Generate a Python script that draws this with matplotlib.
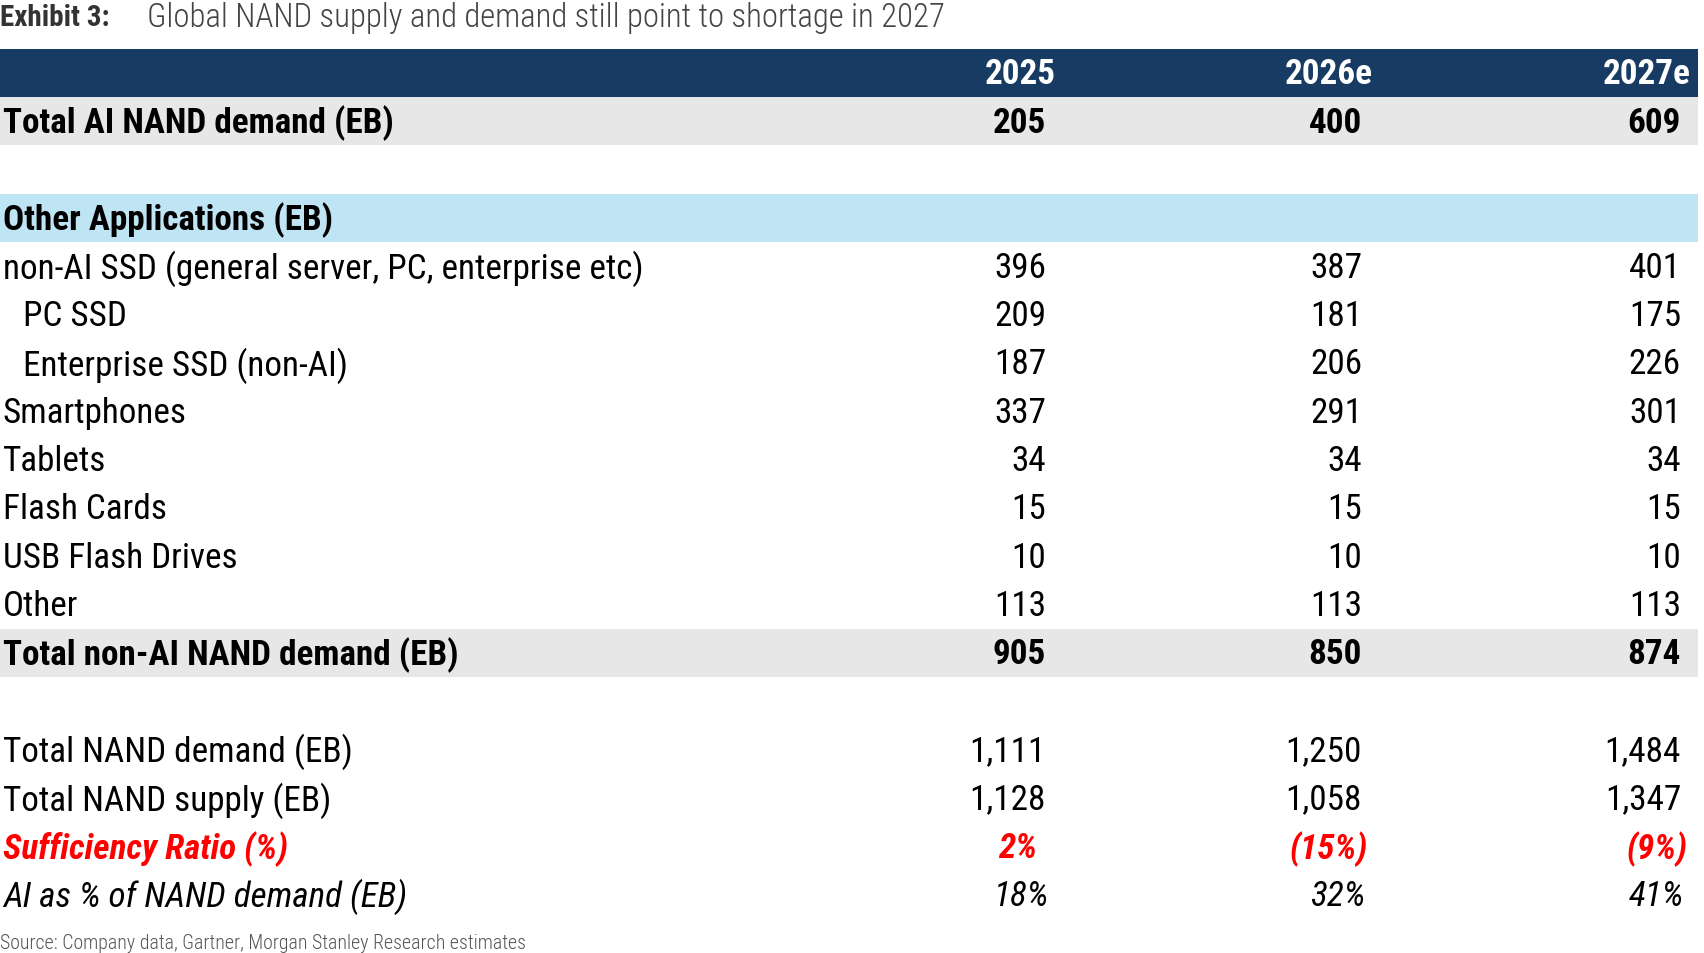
import matplotlib
matplotlib.use("Agg")
import matplotlib.pyplot as plt
from matplotlib.patches import Rectangle
from matplotlib import font_manager as fm

# ---------------- data ----------------
title_label = "Exhibit 3:"
title_text = "Global NAND supply and demand still point to shortage in 2027"
source_text = "Source: Company data, Gartner, Morgan Stanley Research estimates"
years = ["2025", "2026e", "2027e"]

ai_label = "Total AI NAND demand (EB)"
ai_values = ["205", "400", "609"]

section_label = "Other Applications (EB)"
app_labels = ["non-AI SSD (general server, PC, enterprise etc)", "  PC SSD",
              "  Enterprise SSD (non-AI)", "Smartphones", "Tablets",
              "Flash Cards", "USB Flash Drives", "Other"]
app_values = [["396", "387", "401"],
              ["209", "181", "175"],
              ["187", "206", "226"],
              ["337", "291", "301"],
              ["34", "34", "34"],
              ["15", "15", "15"],
              ["10", "10", "10"],
              ["113", "113", "113"]]

nonai_label = "Total non-AI NAND demand (EB)"
nonai_values = ["905", "850", "874"]

demand_label = "Total NAND demand (EB)"
demand_values = ["1,111", "1,250", "1,484"]
supply_label = "Total NAND supply (EB)"
supply_values = ["1,128", "1,058", "1,347"]
suff_label = "Sufficiency Ratio (%)"
suff_values = ["2%", "(15%)", "(9%)"]
aishare_label = "AI as % of NAND demand (EB)"
aishare_values = ["18%", "32%", "41%"]

# ---------------- style ----------------
W, H = 1704, 954
installed = {f.name for f in fm.fontManager.ttflist}
condensed = [n for n in ["Roboto Condensed", "Liberation Sans Narrow",
                         "Open Sans Condensed", "Arial Narrow"] if n in installed]
FONT = condensed[:1] + ["Roboto", "DejaVu Sans"]
IS_NARROW = bool(condensed)
NAVY = "#173b62"
GRAY = "#e7e7e7"
LBLUE = "#bfe4f4"
RED = "#ff0000"
FS = 25.3 if IS_NARROW else 22.5

fig = plt.figure(figsize=(W / 100, H / 100), dpi=100)
ax = fig.add_axes([0, 0, 1, 1])
ax.set_xlim(0, W)
ax.set_ylim(H, 0)
ax.axis("off")

TOP = 49.5
PITCH = 48.35
RIGHT = 1698
col_right = [1046, 1362, 1681]
hdr_right = [1056, 1373, 1691]
LX = 3
TEXT_DY = -2.5


def row_y(i):
    return TOP + PITCH * (i + 0.5) + TEXT_DY


def band(i, color):
    ax.add_patch(Rectangle((0, TOP + PITCH * i), RIGHT, PITCH, color=color, lw=0, zorder=0))


def txt(x, y, s, ha="left", **kw):
    kw.setdefault("fontsize", FS)
    kw.setdefault("color", "black")
    ax.text(x, y, s, ha=ha, va="center_baseline", family=FONT, **kw)


# title
TFS = 23.6 if IS_NARROW else 20.5
ax.text(0, 18, title_label, ha="left", va="center", family=FONT, fontsize=21,
        fontweight="bold", color="#333333")
ax.text(147, 18, title_text, ha="left", va="center", family=FONT, fontsize=TFS,
        fontweight="light", color="#444444")

# header
band(0, NAVY)
for j, y in enumerate(years):
    txt(hdr_right[j], row_y(0), y, ha="right", color="white", fontweight="bold")

# AI row
band(1, GRAY)
txt(LX, row_y(1), ai_label, fontweight="bold")
for j, v in enumerate(ai_values):
    txt(col_right[j], row_y(1), v, ha="right", fontweight="bold")

# section row
band(3, LBLUE)
txt(LX, row_y(3), section_label, fontweight="bold")

for k, (lab, vals) in enumerate(zip(app_labels, app_values)):
    r = 4 + k
    indent = 20 if lab.startswith("  ") else 0
    txt(LX + indent, row_y(r), lab.strip())
    for j, v in enumerate(vals):
        txt(col_right[j], row_y(r), v, ha="right")

band(12, GRAY)
txt(LX, row_y(12), nonai_label, fontweight="bold")
for j, v in enumerate(nonai_values):
    txt(col_right[j], row_y(12), v, ha="right", fontweight="bold")

txt(LX, row_y(14), demand_label)
for j, v in enumerate(demand_values):
    txt(col_right[j], row_y(14), v, ha="right")

txt(LX, row_y(15), supply_label)
for j, v in enumerate(supply_values):
    txt(col_right[j], row_y(15), v, ha="right")

txt(LX, row_y(16), suff_label, color=RED, fontweight="bold", style="italic")
for j, v in enumerate(suff_values):
    off = 6 if v.endswith(")") else -9
    txt(col_right[j] + off, row_y(16), v, ha="right", color=RED,
        fontweight="bold", style="italic")

txt(LX, row_y(17), aishare_label, style="italic")
for j, v in enumerate(aishare_values):
    txt(col_right[j] + 3, row_y(17), v, ha="right", style="italic")

ax.text(0, 944, source_text, ha="left", va="center", family=FONT, fontsize=14.3,
        fontweight="light", color="#555555")

fig.savefig("out.png", dpi=100)
